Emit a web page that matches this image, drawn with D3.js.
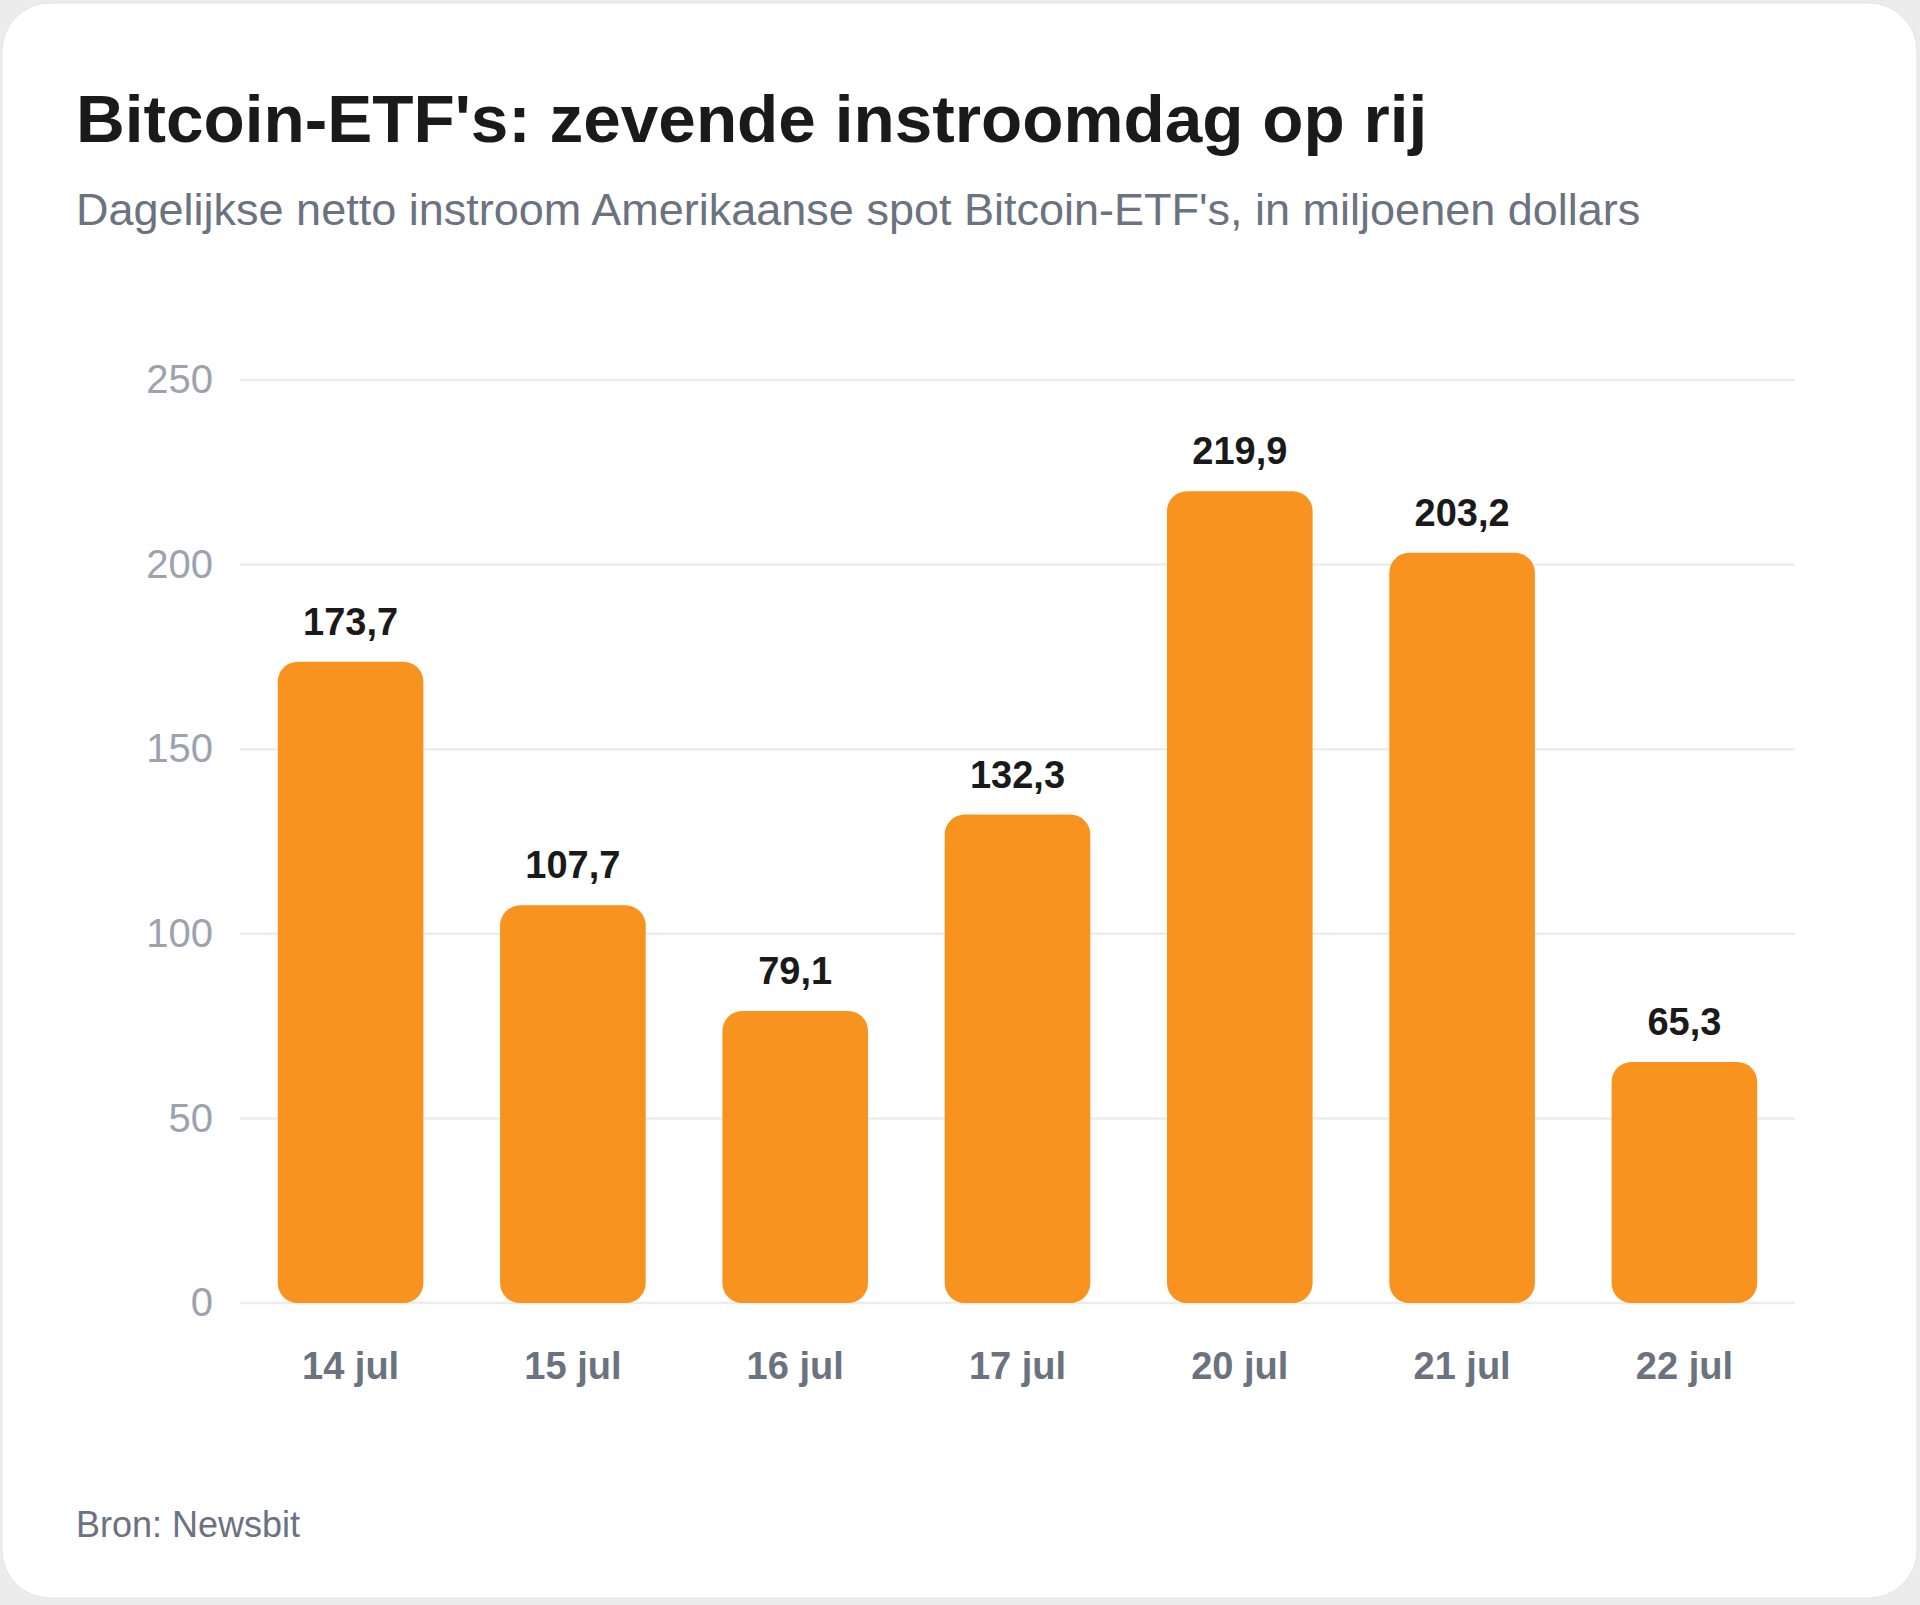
<!DOCTYPE html>
<html lang="nl">
<head>
    <meta charset="UTF-8">
    <title>Bitcoin-ETF's: zevende instroomdag op rij</title>
    <script src="https://d3js.org/d3.v7.min.js"></script>
    <style>
        body {
            margin: 0;
            background: #ececec;
            font-family: "Liberation Sans", Arial, sans-serif;
        }
        svg {
            display: block;
        }
        .tick-label {
            font-size: 40px;
            fill: #9ca3af;
        }
        .cat-label {
            font-size: 38px;
            font-weight: bold;
            fill: #6b7280;
        }
        .value-label {
            font-size: 38px;
            font-weight: bold;
            fill: #1a1a1a;
        }
    </style>
</head>
<body>
    <svg width="1920" height="1605"></svg>
    <script>
        const dagen = ["14 jul", "15 jul", "16 jul", "17 jul", "20 jul", "21 jul", "22 jul"];
        const instroom = [173.7, 107.7, 79.1, 132.3, 219.9, 203.2, 65.3];
        const yTicks = [0, 50, 100, 150, 200, 250];

        const data = dagen.map((d, i) => ({ dag: d, waarde: instroom[i] }));

        const svg = d3.select("svg");
        const W = 1920, H = 1605;

        // kaart
        svg.append("rect")
            .attr("x", 0).attr("y", 0)
            .attr("width", W).attr("height", H)
            .attr("fill", "#ececec");
        svg.append("rect")
            .attr("x", 2).attr("y", 3)
            .attr("width", 1915).attr("height", 1595)
            .attr("rx", 48)
            .attr("fill", "#ffffff")
            .attr("stroke", "#e4e4e4")
            .attr("stroke-width", 1);

        svg.append("text")
            .attr("x", 76).attr("y", 142)
            .attr("font-size", 67.5)
            .attr("font-weight", "bold")
            .attr("fill", "#1a1a1a")
            .text("Bitcoin-ETF's: zevende instroomdag op rij");

        svg.append("text")
            .attr("x", 76).attr("y", 225)
            .attr("font-size", 45)
            .attr("fill", "#6b7280")
            .text("Dagelijkse netto instroom Amerikaanse spot Bitcoin-ETF's, in miljoenen dollars");

        svg.append("text")
            .attr("x", 76).attr("y", 1537)
            .attr("font-size", 36)
            .attr("fill", "#6b7280")
            .text("Bron: Newsbit");

        const x = d3.scaleBand()
            .domain(dagen)
            .range([240, 1795])
            .paddingInner(0.345)
            .paddingOuter(0.17);

        const y = d3.scaleLinear()
            .domain([0, 250])
            .range([1303, 380]);

        // rasterlijnen
        svg.append("g")
            .selectAll("line")
            .data(yTicks)
            .join("line")
            .attr("x1", 240).attr("x2", 1795)
            .attr("y1", d => y(d)).attr("y2", d => y(d))
            .attr("stroke", "#ececec")
            .attr("stroke-width", 2.5);

        svg.append("g")
            .selectAll("text")
            .data(yTicks)
            .join("text")
            .attr("class", "tick-label")
            .attr("x", 213)
            .attr("y", d => y(d))
            .attr("dy", "0.33em")
            .attr("text-anchor", "end")
            .text(d => d);

        const r = 20;
        svg.append("g")
            .selectAll("rect")
            .data(data)
            .join("rect")
            .attr("x", d => x(d.dag))
            .attr("y", d => y(d.waarde))
            .attr("width", x.bandwidth())
            .attr("height", d => y(0) - y(d.waarde))
            .attr("rx", r)
            .attr("fill", "#f7931e");

        const fmt = v => d3.format(".1f")(v).replace(".", ",");

        svg.append("g")
            .selectAll("text")
            .data(data)
            .join("text")
            .attr("class", "value-label")
            .attr("x", d => x(d.dag) + x.bandwidth() / 2)
            .attr("y", d => y(d.waarde) - 27)
            .attr("text-anchor", "middle")
            .text(d => fmt(d.waarde));

        svg.append("g")
            .selectAll("text")
            .data(data)
            .join("text")
            .attr("class", "cat-label")
            .attr("x", d => x(d.dag) + x.bandwidth() / 2)
            .attr("y", 1379)
            .attr("text-anchor", "middle")
            .text(d => d.dag);
    </script>
</body>
</html>
